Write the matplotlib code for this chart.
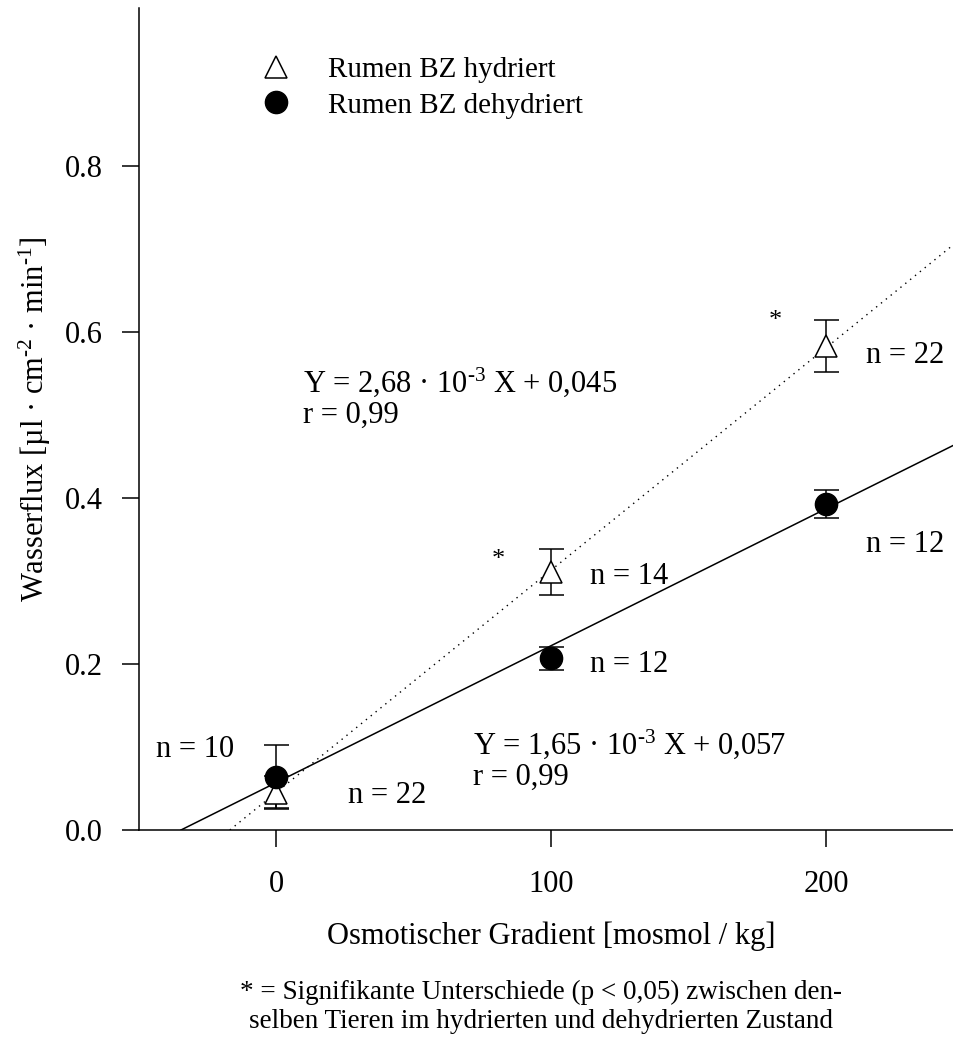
import matplotlib
matplotlib.use("Agg")
import matplotlib.pyplot as plt
import numpy as np

plt.rcParams['font.family'] = ['Liberation Serif', 'DejaVu Serif']
plt.rcParams['mathtext.fontset'] = 'custom'
plt.rcParams['mathtext.rm'] = 'Liberation Serif'
plt.rcParams['mathtext.it'] = 'Liberation Serif:italic'
plt.rcParams['mathtext.default'] = 'regular'

# --- Daten --- #
gradient = [0, 100, 200]                 # mosmol / kg
hydriert = [0.045, 0.311, 0.583]
hydriert_err = [0.020, 0.028, 0.031]
dehydriert = [0.064, 0.207, 0.393]
dehydriert_err = [0.038, 0.014, 0.017]

# Regressionsgeraden (Steigung, Achsenabschnitt)
fit_hydriert = (2.68e-3, 0.045)
fit_dehydriert = (1.65e-3, 0.057)

x_ticks = [0, 100, 200]
y_ticks = [0.0, 0.2, 0.4, 0.6, 0.8]

n_labels = [("n = 10", -43.5, 0.097), ("n = 22", 26.0, 0.041),
            ("n = 14", 114.0, 0.305), ("n = 12", 114.0, 0.199),
            ("n = 22", 214.5, 0.572), ("n = 12", 214.5, 0.344)]

FS = 22
HY = "\u2010"   # kurzer Bindestrich im Exponenten

fig = plt.figure(figsize=(9.54, 10.37), dpi=100)
ax = fig.add_axes([138.5 / 954, 207 / 1037, 825 / 954, 821.7 / 1037])
ax.set_xlim(-50, 250)
ax.set_ylim(0, 0.99)

# Regressionslinien ab Schnittpunkt mit der x-Achse
xmax = 250
m, b = fit_hydriert
ax.plot([-b / m, xmax], [0, m * xmax + b], color='black', lw=1.0,
        linestyle=(0, (1, 3.5)), zorder=2)
m, b = fit_dehydriert
ax.plot([-b / m, xmax], [0, m * xmax + b], color='black', lw=1.1, zorder=2)

# Fehlerbalken
ax.errorbar(gradient, hydriert, yerr=hydriert_err, fmt='none', ecolor='black',
            elinewidth=1.1, capsize=9, capthick=1.1, zorder=3)
ax.errorbar(gradient, dehydriert, yerr=dehydriert_err, fmt='none', ecolor='black',
            elinewidth=1.1, capsize=9, capthick=1.1, zorder=3)

h1, = ax.plot(gradient, hydriert, linestyle='none', marker='^', ms=16,
              mfc='white', mec='black', mew=1.1, zorder=4, label='Rumen BZ hydriert')
h2, = ax.plot(gradient, dehydriert, linestyle='none', marker='o', ms=16,
              mfc='black', mec='black', zorder=5, label='Rumen BZ dehydriert')

ax.legend(handles=[h1, h2], loc='upper left', bbox_to_anchor=(0.1348, 0.955),
          frameon=False, fontsize=21, handlelength=1.0, handletextpad=1.28,
          labelspacing=0.3, borderaxespad=0)

for txt, x, y in n_labels:
    ax.text(x, y, txt, fontsize=FS, ha='left', va='center')

ax.text(9.8, 0.540, f"Y = 2,68 \u00b7 10$^{{{HY}3}}$ X + 0,045", fontsize=FS, va='center')
ax.text(9.8, 0.500, "r = 0,99", fontsize=FS, va='center')
ax.text(71.5, 0.103, f"Y = 1,65 \u00b7 10$^{{{HY}3}}$ X + 0,057", fontsize=FS, va='center')
ax.text(71.5, 0.063, "r = 0,99", fontsize=FS, va='center')

ax.text(81, 0.325, "*", fontsize=19, ha='center', va='center')
ax.text(181.5, 0.613, "*", fontsize=19, ha='center', va='center')

for s in ['top', 'right']:
    ax.spines[s].set_visible(False)
for s in ['left', 'bottom']:
    ax.spines[s].set_linewidth(1.1)

ax.set_xticks(x_ticks)
ax.set_yticks(y_ticks)
ax.set_yticklabels([f"{v:.1f}" for v in y_ticks])
ax.tick_params(axis='both', direction='out', length=12, width=1.1,
               labelsize=FS, colors='black')
ax.tick_params(axis='x', pad=17)
ax.tick_params(axis='y', pad=14)

ax.set_xlabel("Osmotischer Gradient [mosmol / kg]", fontsize=FS, labelpad=16)
ax.set_ylabel(f"Wasserflux [\u00b5l \u00b7 cm$^{{{HY}2}}$ \u00b7 min$^{{{HY}1}}$]",
              fontsize=FS, labelpad=8)

fig.text(541 / 954, 1 - 992 / 1037,
         "* = Signifikante Unterschiede (p < 0,05) zwischen den-",
         fontsize=19.5, ha='center', va='center')
fig.text(541 / 954, 1 - 1022 / 1037,
         "selben Tieren im hydrierten und dehydrierten Zustand",
         fontsize=19.5, ha='center', va='center')

fig.savefig("out.png", dpi=100)
